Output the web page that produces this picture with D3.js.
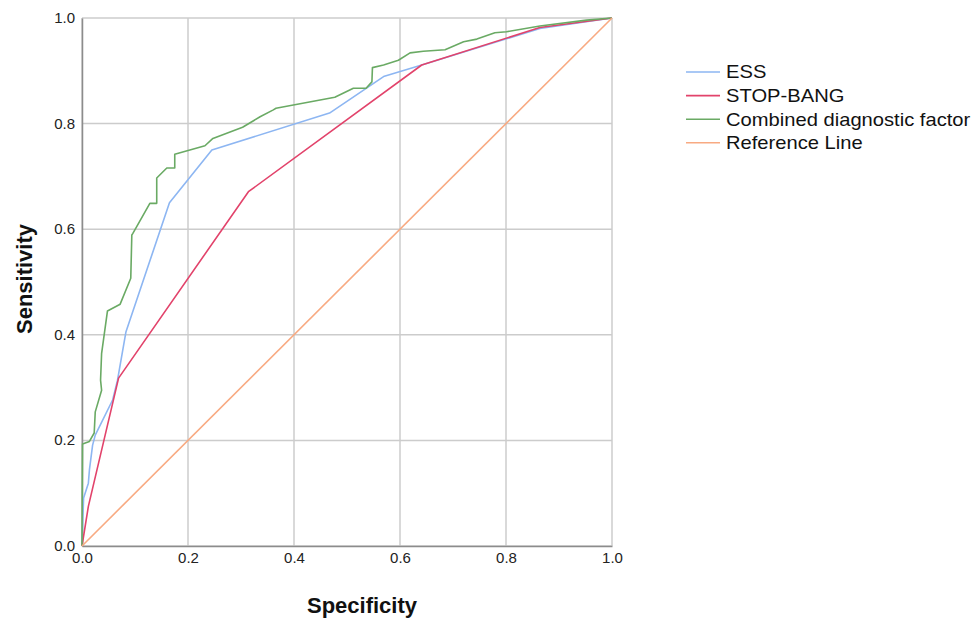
<!DOCTYPE html>
<html lang="en">
<head>
<meta charset="UTF-8">
<style>
  body { margin: 0; background: #fff; }
  svg { font-family: "Liberation Sans", Arial, sans-serif; }
</style>
<script src="https://d3js.org/d3.v7.min.js"></script>
</head>
<body>
<svg id="roc" width="971" height="618"></svg>
<script>
// ROC curves, points are [1 - specificity, sensitivity]
const essPoints = [
  [0, 0], [0.003, 0.091], [0.012, 0.119], [0.014, 0.144], [0.02, 0.191], [0.025, 0.21],
  [0.058, 0.277], [0.067, 0.314], [0.083, 0.406], [0.165, 0.65], [0.245, 0.75],
  [0.467, 0.82], [0.569, 0.889], [0.641, 0.911], [0.864, 0.98], [1, 1]
];
const stopBangPoints = [
  [0, 0], [0.012, 0.075], [0.069, 0.318], [0.314, 0.671], [0.641, 0.911], [0.864, 0.982], [1, 1]
];
const combinedPoints = [
  [0, 0], [0.001, 0.193], [0.014, 0.198], [0.023, 0.214], [0.025, 0.254], [0.037, 0.295],
  [0.035, 0.314], [0.037, 0.365], [0.048, 0.445], [0.072, 0.458], [0.092, 0.507],
  [0.094, 0.589], [0.096, 0.592], [0.128, 0.649], [0.141, 0.649], [0.141, 0.697],
  [0.16, 0.716], [0.175, 0.716], [0.175, 0.742], [0.232, 0.758], [0.247, 0.772],
  [0.303, 0.793], [0.336, 0.813], [0.361, 0.826], [0.366, 0.829], [0.477, 0.85],
  [0.512, 0.867], [0.536, 0.867], [0.547, 0.879], [0.548, 0.906], [0.569, 0.911],
  [0.597, 0.92], [0.619, 0.934], [0.644, 0.937], [0.685, 0.94], [0.72, 0.955],
  [0.745, 0.96], [0.779, 0.972], [0.801, 0.974], [0.864, 0.985], [0.952, 0.996], [1, 1]
];
const referencePoints = [[0, 0], [1, 1]];

const seriesNames = ["ESS", "STOP-BANG", "Combined diagnostic factor", "Reference Line"];
const seriesColors = ["#8db6f2", "#e2436b", "#6aaa64", "#f8aa82"];
const tickValues = [0, 0.2, 0.4, 0.6, 0.8, 1.0];

const series = [essPoints, stopBangPoints, combinedPoints, referencePoints];

const svg = d3.select("#roc");
const plotLeft = 82, plotRight = 612, plotTop = 18, plotBottom = 546;

const x = d3.scaleLinear().domain([0, 1]).range([plotLeft, plotRight]);
const y = d3.scaleLinear().domain([0, 1]).range([plotBottom, plotTop]);

// grid
const grid = svg.append("g");
grid.selectAll("line.vg")
  .data(tickValues)
  .enter().append("line")
  .attr("class", "vg")
  .attr("x1", d => x(d)).attr("x2", d => x(d))
  .attr("y1", plotTop).attr("y2", plotBottom)
  .attr("stroke", "#cccccc").attr("stroke-width", 1.5);
grid.selectAll("line.hg")
  .data(tickValues)
  .enter().append("line")
  .attr("class", "hg")
  .attr("x1", plotLeft).attr("x2", plotRight)
  .attr("y1", d => y(d)).attr("y2", d => y(d))
  .attr("stroke", "#cccccc").attr("stroke-width", 1.5);

// axes
const xAxis = svg.append("g")
  .attr("transform", `translate(0,${plotBottom})`)
  .call(d3.axisBottom(x).tickValues(tickValues).tickFormat(d3.format(".1f")).tickSize(0).tickPadding(6));
const yAxis = svg.append("g")
  .attr("transform", `translate(${plotLeft},0)`)
  .call(d3.axisLeft(y).tickValues(tickValues).tickFormat(d3.format(".1f")).tickSize(0).tickPadding(7));

[xAxis, yAxis].forEach(a => {
  a.select(".domain").attr("stroke", "#8c8c8c").attr("stroke-width", 1.5);
  a.selectAll("text").attr("font-size", 15).attr("fill", "#222")
    .attr("font-family", "'Liberation Sans', Arial, sans-serif");
});
yAxis.selectAll("text").attr("dy", "0.3em");

// curves
const line = d3.line().x(d => x(d[0])).y(d => y(d[1]));
svg.append("g").selectAll("path")
  .data(series)
  .enter().append("path")
  .attr("d", line)
  .attr("fill", "none")
  .attr("stroke", (d, i) => seriesColors[i])
  .attr("stroke-width", 1.6)
  .attr("stroke-linejoin", "round");

// axis titles
svg.append("text")
  .attr("x", 362).attr("y", 613)
  .attr("text-anchor", "middle")
  .attr("font-size", 22).attr("font-weight", "bold").attr("fill", "#111")
  .text("Specificity");
svg.append("text")
  .attr("transform", `translate(32,279) rotate(-90)`)
  .attr("text-anchor", "middle")
  .attr("font-size", 22).attr("font-weight", "bold").attr("fill", "#111")
  .text("Sensitivity");

// legend
const legend = svg.append("g").selectAll("g")
  .data(seriesNames)
  .enter().append("g")
  .attr("transform", (d, i) => `translate(686,${72 + i * 23.6})`);
legend.append("line")
  .attr("x1", 0).attr("x2", 34)
  .attr("stroke", (d, i) => seriesColors[i]).attr("stroke-width", 1.6);
legend.append("text")
  .attr("transform", "translate(40,0) scale(1.12,1)")
  .attr("dy", "0.36em")
  .attr("font-size", 18).attr("fill", "#111")
  .text(d => d);
</script>
</body>
</html>
